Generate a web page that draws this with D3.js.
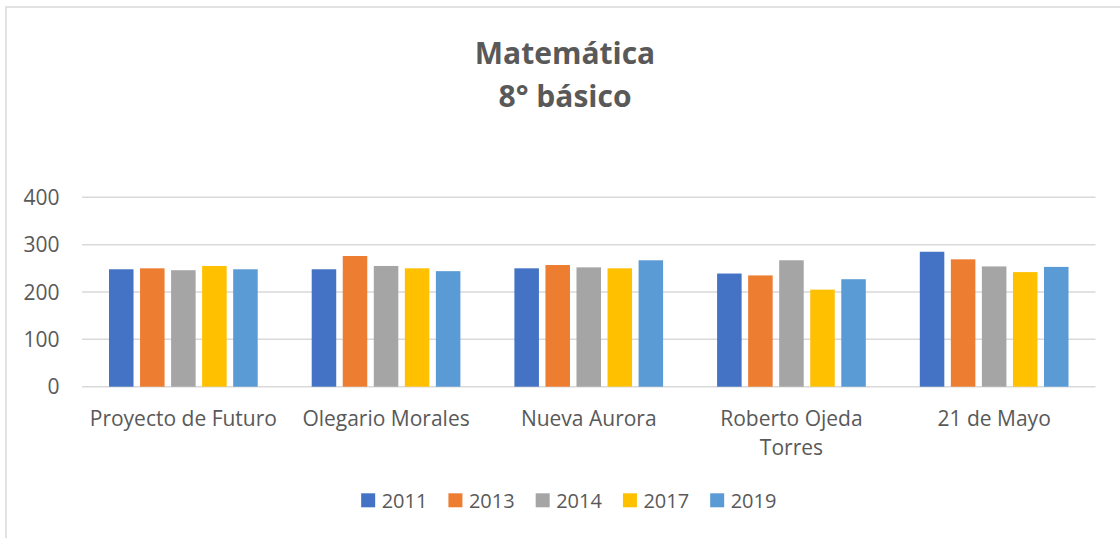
<!DOCTYPE html>
<html>
<head>
<meta charset="utf-8">
<script src="https://cdn.jsdelivr.net/npm/d3@7"></script>
<style>
  body { margin: 0; background: #fff; }
  text { font-family: "Open Sans", sans-serif; fill: #595959; }
</style>
</head>
<body>
<div id="chart"></div>
<script>
// datos
const categorias = ["Proyecto de Futuro", "Olegario Morales", "Nueva Aurora", "Roberto Ojeda Torres", "21 de Mayo"];
const anios = ["2011", "2013", "2014", "2017", "2019"];
const serie2011 = [248, 248, 250, 239, 285];
const serie2013 = [250, 276, 257, 235, 269];
const serie2014 = [246, 255, 252, 267, 254];
const serie2017 = [255, 250, 250, 205, 242];
const serie2019 = [248, 244, 267, 227, 253];
const ticksY = [0, 100, 200, 300, 400];
const colores = ["#4472C4", "#ED7D31", "#A5A5A5", "#FFC000", "#5B9BD5"];

const series = [serie2011, serie2013, serie2014, serie2017, serie2019];

const WIDTH = 1120;
const HEIGHT = 538;

const SVG = d3.select("#chart").append("svg")
    .attr("width", WIDTH)
    .attr("height", HEIGHT);

// borde del area del grafico
SVG.append("path")
    .attr("d", `M6,${HEIGHT} L6,7 L${WIDTH},7`)
    .attr("fill", "none")
    .attr("stroke", "#D9D9D9")
    .attr("stroke-width", 1.5);

// titulo
const titulo = SVG.append("text")
    .attr("text-anchor", "middle")
    .style("font-weight", "bold")
    .style("font-size", "30px");
titulo.append("tspan").attr("x", 565).attr("y", 64).text("Matemática");
titulo.append("tspan").attr("x", 565).attr("y", 107).text("8° básico");

const x0 = d3.scaleBand()
    .domain(categorias)
    .range([82, 1095.5]);

const grupoW = 148.7;
const x1 = d3.scaleBand()
    .domain(anios)
    .range([0, grupoW])
    .paddingInner(0.21);

const y = d3.scaleLinear()
    .domain([0, 400])
    .range([386.7, 197.3]);

// lineas de cuadricula
SVG.append("g")
    .selectAll("line")
    .data(ticksY)
    .join("line")
    .attr("x1", 82)
    .attr("x2", 1095.5)
    .attr("y1", d => y(d))
    .attr("y2", d => y(d))
    .attr("stroke", "#D9D9D9")
    .attr("stroke-width", 1.5);

// etiquetas eje y
SVG.append("g")
    .selectAll("text")
    .data(ticksY)
    .join("text")
    .attr("x", 59.5)
    .attr("y", d => y(d))
    .attr("dy", "0.36em")
    .attr("text-anchor", "end")
    .style("font-size", "21px")
    .text(d => d);

// barras
const grupos = SVG.append("g")
    .selectAll("g")
    .data(categorias)
    .join("g")
    .attr("transform", c => `translate(${x0(c) + (x0.bandwidth() - grupoW) / 2},0)`);

grupos.selectAll("rect")
    .data((c, i) => anios.map((a, j) => ({ anio: a, valor: series[j][i], color: colores[j] })))
    .join("rect")
    .attr("x", d => x1(d.anio))
    .attr("width", x1.bandwidth())
    .attr("y", d => y(d.valor))
    .attr("height", d => y(0) - y(d.valor))
    .attr("fill", d => d.color);

// etiquetas de categoria, con salto de linea si no caben
const etiquetas = SVG.append("g")
    .selectAll("text")
    .data(categorias)
    .join("text")
    .attr("text-anchor", "middle")
    .style("font-size", "21px")
    .attr("y", 425.5);

etiquetas.each(function(c) {
    const t = d3.select(this);
    const cx = x0(c) + x0.bandwidth() / 2;
    const palabras = c.split(" ");
    let linea = [];
    let n = 0;
    let tspan = t.append("tspan").attr("x", cx).attr("dy", 0);
    palabras.forEach(p => {
        linea.push(p);
        tspan.text(linea.join(" "));
        if (tspan.node().getComputedTextLength() > x0.bandwidth() * 0.95 && linea.length > 1) {
            linea.pop();
            tspan.text(linea.join(" "));
            linea = [p];
            n++;
            tspan = t.append("tspan").attr("x", cx).attr("dy", 29.5).text(p);
        }
    });
});

// leyenda
const leyenda = SVG.append("g");
const items = leyenda.selectAll("g")
    .data(anios)
    .join("g");

items.append("rect")
    .attr("width", 14)
    .attr("height", 14)
    .attr("y", 493.3)
    .attr("fill", (d, i) => colores[i]);

items.append("text")
    .attr("x", 20.5)
    .attr("y", 500.3)
    .attr("dy", "0.36em")
    .style("font-size", "20px")
    .text(d => d);

let pos = 0;
const anchos = [];
items.each(function() {
    const w = d3.select(this).select("text").node().getComputedTextLength();
    anchos.push(pos);
    pos += 20.5 + w + 21;
});
const total = pos - 21;
const inicio = 568.8 - total / 2;
items.attr("transform", (d, i) => `translate(${inicio + anchos[i]},0)`);
</script>
</body>
</html>
